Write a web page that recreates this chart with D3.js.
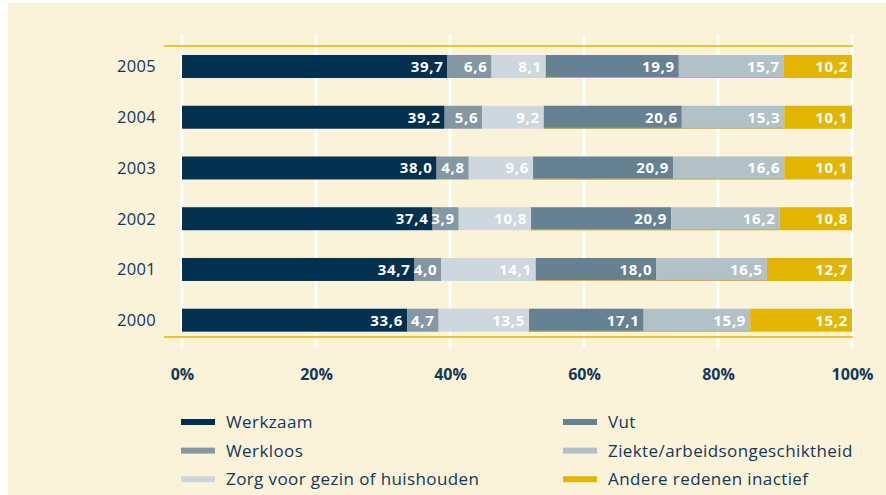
<!DOCTYPE html>
<html>
<head>
<meta charset="utf-8">
<script src="https://cdn.jsdelivr.net/npm/d3@7"></script>
<style>
  body { margin: 0; background: #ffffff; }
  svg { display: block; font-family: "Open Sans", sans-serif; }
</style>
</head>
<body>
<svg id="chart_svg" width="886" height="495"></svg>
<script>
// data
var years = ["2005", "2004", "2003", "2002", "2001", "2000"];
var werkzaam = [39.7, 39.2, 38.0, 37.4, 34.7, 33.6];
var werkloos = [6.6, 5.6, 4.8, 3.9, 4.0, 4.7];
var zorg = [8.1, 9.2, 9.6, 10.8, 14.1, 13.5];
var vut = [19.9, 20.6, 20.9, 20.9, 18.0, 17.1];
var ziekte = [15.7, 15.3, 16.6, 16.2, 16.5, 15.9];
var andere = [10.2, 10.1, 10.1, 10.8, 12.7, 15.2];
var series_names = ["Werkzaam", "Werkloos", "Zorg voor gezin of huishouden", "Vut", "Ziekte/arbeidsongeschiktheid", "Andere redenen inactief"];
var tick_values = [0, 0.2, 0.4, 0.6, 0.8, 1.0];

var g_colors = ["#02304f", "#8497a4", "#ced7dd", "#668192", "#b2c0c8", "#e2b600"];
var g_text = "#12385a";

draw_chart();

function draw_chart() {
    var svg = d3.select("#chart_svg");

    // background
    svg.append("rect").attr("x", 8).attr("y", 3).attr("width", 878).attr("height", 492)
        .attr("fill", "#fbf3d9");

    // build table for the stack
    var all = [werkzaam, werkloos, zorg, vut, ziekte, andere];
    var table = years.map(function (y, i) {
        var row = { year: y };
        series_names.forEach(function (s, k) { row[s] = all[k][i]; });
        return row;
    });
    var stacked = d3.stack().keys(series_names).offset(d3.stackOffsetExpand)(table);

    // scales
    var x = d3.scaleLinear().domain([0, 1]).range([182, 852]);
    var y = d3.scaleBand().domain(years).range([41.1, 345.6]).paddingInner(0.547).paddingOuter(0.274);

    // gridlines
    svg.append("g").selectAll("line").data(tick_values).join("line")
        .attr("x1", d => x(d)).attr("x2", d => x(d))
        .attr("y1", 35).attr("y2", 348)
        .attr("style", "stroke:#ffffff; stroke-width:3");

    // gold rules at top and bottom
    svg.append("g").selectAll("line").data([46, 337]).join("line")
        .attr("x1", 164).attr("x2", 853)
        .attr("y1", d => d).attr("y2", d => d)
        .attr("style", "stroke:#e2b600; stroke-width:1.5");

    // bars
    var layers = svg.append("g").selectAll("g").data(stacked).join("g")
        .attr("fill", (d, i) => g_colors[i]);
    layers.selectAll("rect").data(d => d).join("rect")
        .attr("x", d => x(d[0])).attr("y", d => y(d.data.year))
        .attr("width", d => x(d[1]) - x(d[0])).attr("height", y.bandwidth());
    // thin khaki edge seen under the vut / ziekte segments
    layers.filter((d, i) => i === 3 || i === 4).selectAll("line.edge").data(d => d).join("line").classed("edge", true)
        .attr("x1", d => x(d[0])).attr("x2", d => x(d[1]))
        .attr("y1", d => y(d.data.year) + y.bandwidth() - 0.5).attr("y2", d => y(d.data.year) + y.bandwidth() - 0.5)
        .attr("style", "stroke:#c8b25a; stroke-width:1");

    // value labels
    layers.selectAll("text").data((d, i) => d.map(function (p, j) { return { p: p, v: all[i][j] }; })).join("text")
        .attr("x", d => x(d.p[1]) - 4)
        .attr("y", d => y(d.p.data.year) + y.bandwidth() / 2 + 5.5)
        .attr("text-anchor", "end")
        .attr("style", "fill:#ffffff; font-size:15px; font-weight:bold; letter-spacing:0.7px")
        .text(d => d.v.toFixed(1).replace(".", ","));

    // year labels
    svg.append("g").selectAll("text").data(years).join("text")
        .attr("x", 156).attr("y", d => y(d) + y.bandwidth() / 2 + 6)
        .attr("text-anchor", "end")
        .attr("style", "fill:" + g_text + "; font-size:16.5px; letter-spacing:0.3px")
        .text(d => d);

    // x axis
    var axis = svg.append("g").attr("transform", "translate(0, 366)")
        .call(d3.axisBottom(x).tickValues(tick_values).tickFormat(d3.format(".0%")).tickSize(0));
    axis.select(".domain").remove();
    axis.selectAll("text")
        .attr("style", "fill:" + g_text + "; font-size:16px; font-weight:bold; font-family:'Open Sans', sans-serif");

    // legend
    var legend = svg.append("g").selectAll("g").data(series_names).join("g")
        .attr("transform", function (d, i) {
            var col = Math.floor(i / 3), row = i % 3;
            return "translate(" + (col === 0 ? 181 : 563) + ", " + (422 + row * 28.6) + ")";
        });
    legend.append("rect").attr("x", 0).attr("y", -3).attr("width", 34).attr("height", 6)
        .attr("fill", (d, i) => g_colors[i]);
    legend.append("text").attr("x", 45).attr("y", 6)
        .attr("style", "fill:" + g_text + "; font-size:17px; letter-spacing:0.4px")
        .text(d => d);
}
</script>
</body>
</html>
